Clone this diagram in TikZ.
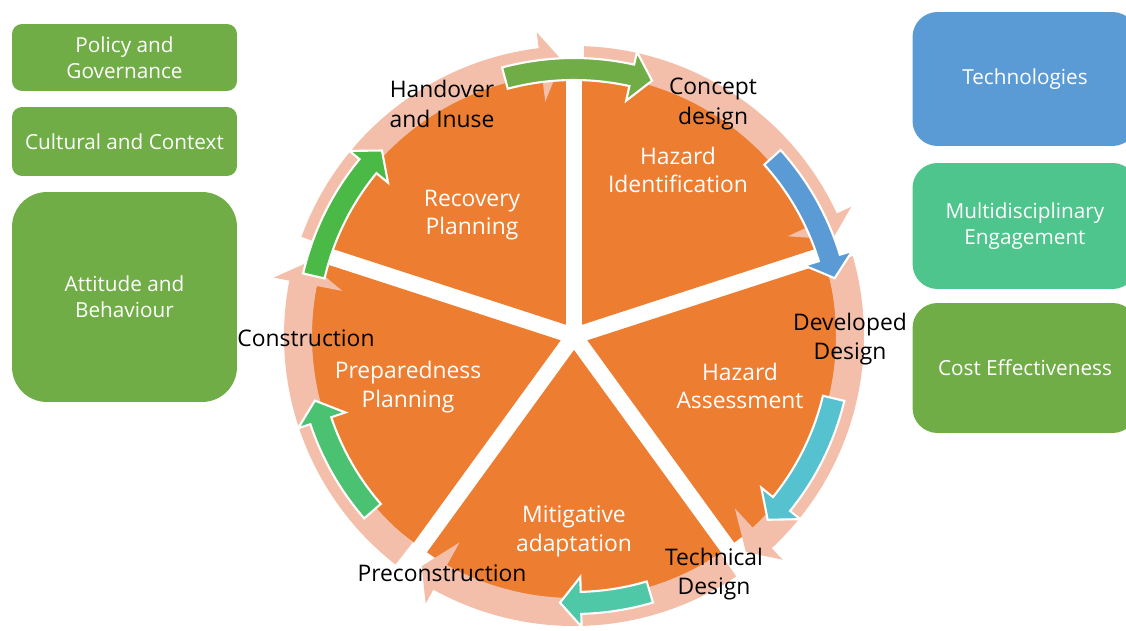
\documentclass[tikz,border=0pt]{standalone}
\usepackage{fontspec}
\setmainfont{Open Sans}
\usetikzlibrary{calc}

\definecolor{pieorange}{HTML}{ED7D31}
\definecolor{ringpink}{HTML}{F4BFAA}
\definecolor{boxgreen}{HTML}{70AD47}
\definecolor{boxblue}{HTML}{5B9BD5}
\definecolor{boxmint}{HTML}{4EC58C}
\definecolor{arrcyan}{HTML}{56C1CF}
\definecolor{arrteal}{HTML}{4FC8A7}
\definecolor{arrmint}{HTML}{4BC272}
\definecolor{arrlime}{HTML}{4AB946}

% curved arrow round (c): style, from, to (tip), body radii, head radii
\newcommand{\ringarrow}[7]{%
  \path[#1] ($(c)+({#2}:#4)$) arc[start angle={#2}, end angle={#3+4.5}, radius=#4]
    -- ($(c)+({#3+4.5}:#6)$) -- ($(c)+({#3}:{(#4+#5)/2})$) -- ($(c)+({#3+4.5}:#7)$)
    -- ($(c)+({#3+4.5}:#5)$) arc[start angle={#3+4.5}, end angle={#2}, radius=#5] -- cycle;}

\begin{document}
\begin{tikzpicture}[x=0.02cm, y=0.02cm]
\tikzstyle{slicetext} = [text=white, align=center, font=\fontsize{13}{16.4}\selectfont]
\tikzstyle{stagetext} = [text=black, align=center, font=\fontsize{13}{17}\selectfont]
\tikzstyle{sidebox} = [fill=boxgreen, text=white, align=center, inner sep=0pt,
  minimum width=4.5cm, rounded corners=0.2cm, font=\fontsize{11.8}{14.7}\selectfont]
\tikzstyle{colarrow} = [draw=white, line width=1.2pt]

\path[use as bounding box] (0,0) rectangle (1126,630);
\clip (0,0) rectangle (1126,630);

\coordinate (c) at (574,294);

% exploded pie
\foreach \a in {126,54,-18,-90,-162}
  \fill[pieorange] ($(c)+(\a:14)$) -- ++({\a-36}:250)
    arc[start angle={\a-36}, end angle={\a+36}, radius=250] -- cycle;

% light ring of arrows
\foreach \b in {90,18,-54,-126,-198}
  \ringarrow{fill=ringpink}{\b-2}{\b-69.5}{262}{290}{236}{306};

% coloured arrows
\ringarrow{colarrow, fill=boxgreen}{105}{73}{256}{278}{241}{291}
\ringarrow{colarrow, fill=boxblue}{42}{12.5}{256}{278}{241}{291}
\ringarrow{colarrow, fill=arrcyan}{-13.5}{-43.5}{256}{278}{241}{291}
\ringarrow{colarrow, fill=arrteal}{-73.5}{-93}{256}{278}{241}{291}
\ringarrow{colarrow, fill=arrmint}{-139}{-166}{256}{278}{241}{291}
\ringarrow{colarrow, fill=arrlime}{167}{136}{256}{278}{241}{291}

% slices
\node[slicetext] (recovery) at (472,415) {Recovery\\Planning};
\node[slicetext] (hazid) at (678,460) {Hazard\\Identification};
\node[slicetext] (hazass) at (740,244) {Hazard\\Assessment};
\node[slicetext] (mitig) at (574,99) {Mitigative\\adaptation};
\node[slicetext] (prepared) at (408,243) {Preparedness\\Planning};

% stages
\node[stagetext] (handover) at (442,526) {Handover\\and Inuse};
\node[stagetext] (concept) at (713,526) {Concept\\design};
\node[stagetext] (developed) at (850,291) {Developed\\Design};
\node[stagetext] (technical) at (714,56) {Technical\\Design};
\node[stagetext] (precon) at (442,57) {Preconstruction};
\node[stagetext] (construct) at (306,292) {Construction};

% side boxes
\node[sidebox, minimum height=1.34cm] (policy) at (124.5,572.5) {Policy and\\Governance};
\node[sidebox, minimum height=1.38cm] (culture) at (124.5,488.5) {Cultural and Context};
\node[sidebox, minimum height=4.2cm, rounded corners=0.7cm] (attitude) at (124.5,333) {Attitude and\\Behaviour};
\node[sidebox, fill=boxblue, minimum height=2.68cm, rounded corners=0.5cm] (techno) at (1025,551) {Technologies};
\node[sidebox, fill=boxmint, minimum height=2.52cm, rounded corners=0.5cm] (multi) at (1025,404) {Multidisciplinary\\Engagement};
\node[sidebox, minimum height=2.6cm, rounded corners=0.5cm] (cost) at (1025,262) {Cost Effectiveness};
\end{tikzpicture}
\end{document}
